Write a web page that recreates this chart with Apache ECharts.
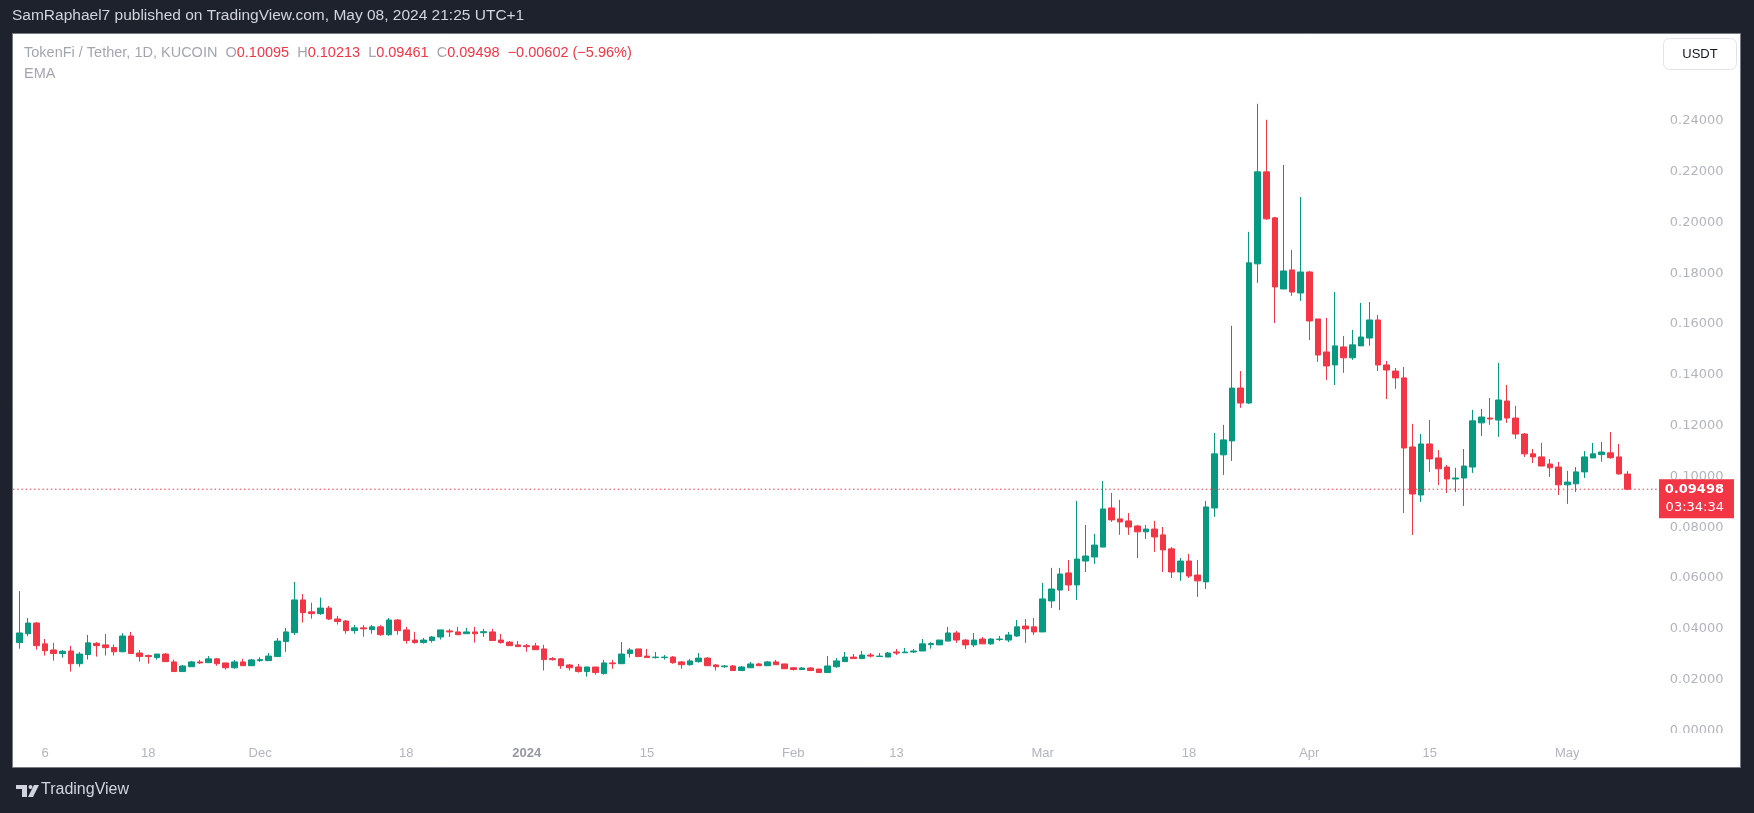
<!DOCTYPE html>
<html>
<head>
<meta charset="utf-8">
<title>TokenFi / Tether, 1D, KUCOIN</title>
<script src="https://cdn.jsdelivr.net/npm/echarts@6/dist/echarts.min.js"></script>
<style>
  html, body { margin: 0; padding: 0; background: #1e222d; }
  #chart { width: 1754px; height: 813px; }
</style>
</head>
<body>
<div id="chart"></div>
<script>
  // daily candles, TFI/USDT on KuCoin, 2023-11-03 .. 2024-05-08
  var startDate = '2023-11-03'
  var open = [
    0.0346, 0.0381, 0.0423, 0.0341, 0.0317, 0.0303, 0.0313, 0.0263, 0.0299, 0.0343,
    0.0337, 0.0327, 0.0310, 0.0372, 0.0305, 0.0295, 0.0287, 0.0301, 0.0270, 0.0232,
    0.0251, 0.0270, 0.0267, 0.0282, 0.0266, 0.0247, 0.0270, 0.0255, 0.0275, 0.0275,
    0.0291, 0.0350, 0.0385, 0.0514, 0.0467, 0.0460, 0.0482, 0.0439, 0.0431, 0.0393,
    0.0404, 0.0397, 0.0408, 0.0377, 0.0435, 0.0396, 0.0356, 0.0346, 0.0354, 0.0368,
    0.0392, 0.0388, 0.0381, 0.0388, 0.0385, 0.0388, 0.0356, 0.0348, 0.0337, 0.0334,
    0.0333, 0.0321, 0.0283, 0.0282, 0.0258, 0.0250, 0.0232, 0.0250, 0.0224, 0.0266,
    0.0263, 0.0303, 0.0321, 0.0293, 0.0287, 0.0287, 0.0289, 0.0270, 0.0259, 0.0271,
    0.0285, 0.0258, 0.0251, 0.0254, 0.0236, 0.0247, 0.0262, 0.0255, 0.0270, 0.0262,
    0.0247, 0.0240, 0.0246, 0.0242, 0.0228, 0.0251, 0.0271, 0.0289, 0.0283, 0.0297,
    0.0291, 0.0289, 0.0309, 0.0306, 0.0309, 0.0313, 0.0338, 0.0337, 0.0352, 0.0384,
    0.0356, 0.0337, 0.0360, 0.0341, 0.0358, 0.0356, 0.0372, 0.0411, 0.0408, 0.0388,
    0.0510, 0.0553, 0.0620, 0.0573, 0.0667, 0.0683, 0.0722, 0.0876, 0.0833, 0.0825,
    0.0805, 0.0782, 0.0793, 0.0770, 0.0715, 0.0624, 0.0667, 0.0612, 0.0585, 0.0876,
    0.1085, 0.1140, 0.1348, 0.1289, 0.1837, 0.2199, 0.2018, 0.1738, 0.1813, 0.1722,
    0.1805, 0.1620, 0.1490, 0.1439, 0.1510, 0.1467, 0.1514, 0.1545, 0.1616, 0.1439,
    0.1415, 0.1388, 0.1116, 0.0927, 0.1128, 0.1073, 0.1037, 0.0990, 0.0994, 0.1037,
    0.1211, 0.1230, 0.1222, 0.1297, 0.1230, 0.1167, 0.1089, 0.1077, 0.1049, 0.1037,
    0.0967, 0.0971, 0.1018, 0.1073, 0.1086, 0.1093, 0.1077, 0.10095
  ]
  var high = [
    0.0549, 0.0443, 0.0427, 0.0360, 0.0345, 0.0317, 0.0333, 0.0309, 0.0376, 0.0348,
    0.0380, 0.0339, 0.0383, 0.0388, 0.0317, 0.0299, 0.0301, 0.0305, 0.0279, 0.0258,
    0.0274, 0.0278, 0.0293, 0.0285, 0.0266, 0.0278, 0.0282, 0.0282, 0.0289, 0.0305,
    0.0364, 0.0404, 0.0585, 0.0537, 0.0503, 0.0523, 0.0490, 0.0451, 0.0435, 0.0415,
    0.0415, 0.0415, 0.0415, 0.0443, 0.0439, 0.0408, 0.0388, 0.0364, 0.0372, 0.0396,
    0.0400, 0.0408, 0.0404, 0.0408, 0.0400, 0.0400, 0.0380, 0.0352, 0.0352, 0.0341,
    0.0345, 0.0337, 0.0289, 0.0285, 0.0262, 0.0262, 0.0250, 0.0250, 0.0278, 0.0278,
    0.0348, 0.0325, 0.0321, 0.0321, 0.0309, 0.0297, 0.0293, 0.0274, 0.0282, 0.0305,
    0.0289, 0.0262, 0.0258, 0.0258, 0.0254, 0.0270, 0.0266, 0.0274, 0.0278, 0.0262,
    0.0250, 0.0250, 0.0250, 0.0242, 0.0293, 0.0285, 0.0309, 0.0301, 0.0313, 0.0305,
    0.0305, 0.0309, 0.0321, 0.0325, 0.0321, 0.0360, 0.0348, 0.0356, 0.0408, 0.0392,
    0.0360, 0.0384, 0.0368, 0.0364, 0.0372, 0.0388, 0.0435, 0.0439, 0.0443, 0.0581,
    0.0640, 0.0640, 0.0671, 0.0904, 0.0809, 0.0774, 0.0982, 0.0935, 0.0908, 0.0856,
    0.0809, 0.0809, 0.0825, 0.0801, 0.0722, 0.0679, 0.0695, 0.0671, 0.0904, 0.1171,
    0.1203, 0.1593, 0.1415, 0.1963, 0.2467, 0.2404, 0.2022, 0.2226, 0.1892, 0.2100,
    0.1809, 0.1620, 0.1624, 0.1726, 0.1553, 0.1577, 0.1683, 0.1687, 0.1636, 0.1455,
    0.1427, 0.1431, 0.1207, 0.1167, 0.1222, 0.1104, 0.1045, 0.1034, 0.1108, 0.1262,
    0.1266, 0.1309, 0.1447, 0.1360, 0.1278, 0.1171, 0.1108, 0.1132, 0.1069, 0.1057,
    0.1022, 0.1037, 0.1100, 0.1132, 0.1136, 0.1175, 0.1128, 0.10213
  ]
  var low = [
    0.0322, 0.0371, 0.0318, 0.0295, 0.0275, 0.0287, 0.0232, 0.0251, 0.0279, 0.0291,
    0.0295, 0.0295, 0.0308, 0.0303, 0.0271, 0.0263, 0.0279, 0.0271, 0.0232, 0.0232,
    0.0251, 0.0262, 0.0267, 0.0255, 0.0240, 0.0243, 0.0255, 0.0255, 0.0270, 0.0275,
    0.0291, 0.0310, 0.0376, 0.0425, 0.0440, 0.0455, 0.0435, 0.0417, 0.0381, 0.0381,
    0.0369, 0.0381, 0.0373, 0.0373, 0.0377, 0.0342, 0.0342, 0.0342, 0.0346, 0.0358,
    0.0368, 0.0377, 0.0381, 0.0346, 0.0369, 0.0354, 0.0342, 0.0334, 0.0330, 0.0310,
    0.0318, 0.0236, 0.0275, 0.0243, 0.0236, 0.0228, 0.0212, 0.0220, 0.0220, 0.0243,
    0.0263, 0.0287, 0.0291, 0.0287, 0.0283, 0.0279, 0.0263, 0.0243, 0.0255, 0.0267,
    0.0255, 0.0236, 0.0247, 0.0236, 0.0236, 0.0247, 0.0255, 0.0255, 0.0259, 0.0243,
    0.0236, 0.0240, 0.0236, 0.0228, 0.0228, 0.0247, 0.0271, 0.0283, 0.0283, 0.0287,
    0.0291, 0.0289, 0.0297, 0.0306, 0.0305, 0.0313, 0.0322, 0.0337, 0.0352, 0.0345,
    0.0321, 0.0329, 0.0341, 0.0337, 0.0352, 0.0348, 0.0368, 0.0345, 0.0376, 0.0388,
    0.0482, 0.0474, 0.0549, 0.0514, 0.0624, 0.0656, 0.0722, 0.0821, 0.0770, 0.0770,
    0.0679, 0.0754, 0.0703, 0.0624, 0.0600, 0.0589, 0.0600, 0.0526, 0.0557, 0.0841,
    0.1006, 0.1061, 0.1270, 0.1285, 0.1762, 0.2010, 0.1604, 0.1738, 0.1711, 0.1691,
    0.1537, 0.1451, 0.1380, 0.1360, 0.1408, 0.1459, 0.1514, 0.1514, 0.1415, 0.1305,
    0.1345, 0.0856, 0.0770, 0.0900, 0.1018, 0.0966, 0.0935, 0.0939, 0.0884, 0.1014,
    0.1159, 0.1203, 0.1156, 0.1211, 0.1148, 0.1077, 0.1053, 0.1041, 0.0998, 0.0927,
    0.0892, 0.0939, 0.0994, 0.1073, 0.1058, 0.1070, 0.1007, 0.09461
  ]
  var close = [
    0.0384, 0.0423, 0.0334, 0.0314, 0.0303, 0.0312, 0.0263, 0.0301, 0.0345, 0.0334,
    0.0326, 0.0310, 0.0372, 0.0303, 0.0291, 0.0291, 0.0301, 0.0271, 0.0232, 0.0254,
    0.0270, 0.0266, 0.0282, 0.0263, 0.0247, 0.0270, 0.0255, 0.0278, 0.0279, 0.0293,
    0.0352, 0.0388, 0.0514, 0.0464, 0.0460, 0.0482, 0.0439, 0.0429, 0.0393, 0.0404,
    0.0400, 0.0408, 0.0377, 0.0435, 0.0393, 0.0354, 0.0346, 0.0356, 0.0368, 0.0396,
    0.0388, 0.0377, 0.0388, 0.0381, 0.0389, 0.0354, 0.0346, 0.0334, 0.0330, 0.0330,
    0.0318, 0.0279, 0.0279, 0.0255, 0.0247, 0.0232, 0.0250, 0.0228, 0.0266, 0.0263,
    0.0301, 0.0317, 0.0291, 0.0287, 0.0289, 0.0289, 0.0267, 0.0259, 0.0274, 0.0285,
    0.0255, 0.0251, 0.0254, 0.0236, 0.0250, 0.0262, 0.0255, 0.0270, 0.0259, 0.0243,
    0.0240, 0.0246, 0.0236, 0.0228, 0.0254, 0.0274, 0.0289, 0.0283, 0.0297, 0.0293,
    0.0293, 0.0305, 0.0305, 0.0309, 0.0313, 0.0341, 0.0342, 0.0356, 0.0384, 0.0356,
    0.0337, 0.0356, 0.0341, 0.0360, 0.0360, 0.0376, 0.0408, 0.0400, 0.0388, 0.0518,
    0.0557, 0.0616, 0.0573, 0.0675, 0.0687, 0.0730, 0.0872, 0.0829, 0.0821, 0.0801,
    0.0782, 0.0793, 0.0762, 0.0711, 0.0624, 0.0667, 0.0608, 0.0589, 0.0880, 0.1089,
    0.1144, 0.1348, 0.1289, 0.1841, 0.2199, 0.2014, 0.1746, 0.1809, 0.1726, 0.1805,
    0.1612, 0.1478, 0.1435, 0.1514, 0.1467, 0.1518, 0.1549, 0.1616, 0.1439, 0.1419,
    0.1388, 0.1112, 0.0931, 0.1128, 0.1069, 0.1030, 0.0990, 0.0994, 0.1041, 0.1219,
    0.1234, 0.1226, 0.1301, 0.1230, 0.1167, 0.1089, 0.1077, 0.1041, 0.1034, 0.0967,
    0.0978, 0.1018, 0.1077, 0.1089, 0.1096, 0.1074, 0.1010, 0.09498
  ]
  // time scale labels: [date, text]
  var timeTicks = [
    ['2023-11-06', '6'], ['2023-11-18', '18'], ['2023-12-01', 'Dec'], ['2023-12-18', '18'],
    ['2024-01-01', '2024'], ['2024-01-15', '15'], ['2024-02-01', 'Feb'], ['2024-02-13', '13'],
    ['2024-03-01', 'Mar'], ['2024-03-18', '18'], ['2024-04-01', 'Apr'], ['2024-04-15', '15'],
    ['2024-05-01', 'May']
  ]
  var rightOffset = 3 // empty bars after the last candle

  var UP = '#089981'
  var DOWN = '#f23645'

  var dates = []
  var t0 = new Date(startDate + 'T00:00:00Z').getTime()
  for (var i = 0; i < close.length; i++) {
    dates.push(new Date(t0 + i * 86400000).toISOString().slice(0, 10))
  }
  for (var k = 0; k < rightOffset; k++) dates.push('pad' + k)

  var tickMap = {}
  timeTicks.forEach(function(t) { tickMap[t[0]] = t[1] })

  // echarts order: open, close, low, high
  var candles = close.map(function(c, i) {
    return [open[i], c, low[i], high[i]]
  })

  var n = close.length
  var last = { o: open[n - 1], h: high[n - 1], l: low[n - 1], c: close[n - 1] }
  var chg = last.c - close[n - 2]
  var pct = chg / close[n - 2] * 100
  var sign = function(v, d) { return (v < 0 ? '\u2212' : '+') + Math.abs(v).toFixed(d) }
  var legendText = '{g|TokenFi / Tether, 1D, KUCOIN  O}{r|' + last.o.toFixed(5) + '}' +
    '{g|  H}{r|' + last.h.toFixed(5) + '}' +
    '{g|  L}{r|' + last.l.toFixed(5) + '}' +
    '{g|  C}{r|' + last.c.toFixed(5) + '}' +
    '{r|  ' + sign(chg, 5) + ' (' + sign(pct, 2) + '%)}'

  var chart = echarts.init(document.getElementById('chart'))
  chart.setOption({
    animation: false,
    backgroundColor: '#1e222d',
    grid: {
      left: 15,
      top: 70,
      width: 8.6 * dates.length,
      height: 660.5
    },
    xAxis: {
      type: 'category',
      data: dates,
      boundaryGap: true,
      axisLine: { show: false },
      axisTick: { show: false },
      splitLine: { show: false },
      axisLabel: {
        interval: function(idx, value) { return tickMap[value] !== undefined },
        formatter: function(value) {
          var s = tickMap[value]
          if (s === undefined) return ''
          return s === '2024' ? '{b|2024}' : s
        },
        margin: 16,
        color: '#b2b5be',
        fontSize: 13,
        fontFamily: 'Liberation Sans',
        rich: { b: { fontWeight: 'bold', fontSize: 13, color: '#9598a1', fontFamily: 'Liberation Sans' } }
      }
    },
    yAxis: {
      type: 'value',
      position: 'right',
      min: 0,
      max: 0.26,
      interval: 0.02,
      axisLine: { show: false },
      axisTick: { show: false },
      splitLine: { show: false },
      axisLabel: {
        align: 'right',
        margin: 66,
        color: '#b2b5be',
        fontSize: 13,
        fontFamily: 'DejaVu Sans',
        formatter: function(v) { return v > 0.245 ? '' : v.toFixed(5) }
      }
    },
    series: [{
      type: 'candlestick',
      data: candles,
      barWidth: 6,
      itemStyle: {
        color: UP,
        color0: DOWN,
        borderColor: UP,
        borderColor0: DOWN,
        borderWidth: 1
      }
    }],
    graphic: [
      // white chart panel
      {
        type: 'rect', z: -100, silent: true,
        shape: { x: 12.5, y: 33.5, width: 1728, height: 734 },
        style: { fill: '#ffffff', stroke: '#787b86', lineWidth: 1 }
      },
      // time scale strip hides the clipped price label
      {
        type: 'rect', z: 100, silent: true,
        shape: { x: 1660, y: 733, width: 80, height: 34 },
        style: { fill: '#ffffff' }
      },
      {
        type: 'text', left: 12, top: 8, z: 100,
        style: {
          text: 'SamRaphael7 published on TradingView.com, May 08, 2024 21:25 UTC+1',
          fill: '#d1d4dc', fontSize: 15.5, fontFamily: 'Liberation Sans'
        }
      },
      {
        type: 'text', left: 24, top: 45, z: 100,
        style: {
          text: legendText,
          fontSize: 14.5,
          fontFamily: 'Liberation Sans',
          rich: {
            g: { fill: '#a3a6af', fontSize: 14.5, fontFamily: 'Liberation Sans' },
            r: { fill: DOWN, fontSize: 14.5, fontFamily: 'Liberation Sans' }
          }
        }
      },
      {
        type: 'text', left: 24, top: 66, z: 100,
        style: { text: 'EMA', fill: '#a3a6af', fontSize: 14.5, fontFamily: 'Liberation Sans' }
      },
      // USDT button
      {
        type: 'rect', z: 100,
        shape: { x: 1663.5, y: 38.5, width: 73, height: 31, r: 6 },
        style: { fill: '#ffffff', stroke: '#e0e3eb', lineWidth: 1 }
      },
      {
        type: 'text', z: 101, x: 1700, y: 54,
        style: {
          text: 'USDT', fill: '#131722', fontSize: 13, fontFamily: 'Liberation Sans',
          align: 'center', verticalAlign: 'middle'
        }
      },
      // TradingView logo + name in the bottom bar
      {
        type: 'polygon', z: 100,
        shape: { points: [[16, 785], [27, 785], [27, 797], [22, 797], [22, 789], [16, 789]] },
        style: { fill: '#d1d4dc' }
      },
      {
        type: 'circle', z: 100,
        shape: { cx: 30.5, cy: 787, r: 2 },
        style: { fill: '#d1d4dc' }
      },
      {
        type: 'polygon', z: 100,
        shape: { points: [[34, 785], [39, 785], [33, 797], [28, 797]] },
        style: { fill: '#d1d4dc' }
      },
      {
        type: 'text', left: 41, top: 782, z: 100,
        style: { text: 'TradingView', fill: '#d1d4dc', fontSize: 16, fontFamily: 'Liberation Sans' }
      }
    ]
  })

  // last price line and tag, placed at the close price through the y axis
  var py = chart.convertToPixel({ yAxisIndex: 0 }, last.c)
  chart.setOption({
    graphic: [
      {
        id: 'lastLine', type: 'line', z: 50, silent: true,
        shape: { x1: 13, y1: py, x2: 1659, y2: py },
        style: { stroke: DOWN, lineWidth: 1, lineDash: [1.5, 2.7] }
      },
      {
        id: 'tagBox', type: 'rect', z: 110,
        shape: { x: 1659, y: py - 10, width: 75, height: 39 },
        style: { fill: DOWN }
      },
      {
        id: 'tagPrice', type: 'text', z: 111, x: 1724, y: py,
        style: {
          text: last.c.toFixed(5), fill: '#ffffff', fontSize: 13, fontFamily: 'DejaVu Sans',
          fontWeight: 'bold', align: 'right', verticalAlign: 'middle'
        }
      },
      {
        id: 'tagTime', type: 'text', z: 111, x: 1724, y: py + 18,
        style: {
          text: '03:34:34', fill: '#ffffff', fontSize: 13, fontFamily: 'DejaVu Sans',
          align: 'right', verticalAlign: 'middle'
        }
      }
    ]
  })
</script>
</body>
</html>
